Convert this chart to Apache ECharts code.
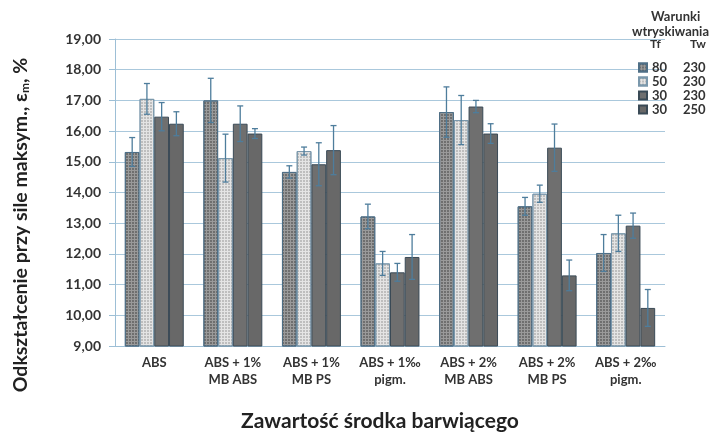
<!DOCTYPE html>
<html><head><meta charset="utf-8">
<script src="https://cdn.jsdelivr.net/npm/echarts@6/dist/echarts.min.js"></script>
<style>html,body{margin:0;padding:0;background:#fff}#c{width:723px;height:437px}</style>
</head><body><div id="c"></div>
<script>
var categories = ['ABS', 'ABS + 1%\nMB ABS', 'ABS + 1%\nMB PS', 'ABS + 1‰\npigm.', 'ABS + 2%\nMB ABS', 'ABS + 2%\nMB PS', 'ABS + 2‰\npigm.'];
var tf = ['80', '50', '30', '30'];
var tw = ['230', '230', '230', '250'];
var values1 = [15.32, 17.00, 14.67, 13.22, 16.62, 13.55, 12.03];
var values2 = [17.05, 15.12, 15.35, 11.69, 16.36, 13.96, 12.67];
var values3 = [16.47, 16.24, 14.92, 11.40, 16.80, 15.46, 12.92];
var values4 = [16.24, 15.92, 15.38, 11.90, 15.92, 11.30, 10.24];
var errors1 = [0.47, 0.72, 0.20, 0.40, 0.82, 0.29, 0.60];
var errors2 = [0.50, 0.78, 0.13, 0.39, 0.80, 0.28, 0.59];
var errors3 = [0.46, 0.58, 0.70, 0.29, 0.20, 0.77, 0.41];
var errors4 = [0.39, 0.16, 0.80, 0.73, 0.32, 0.50, 0.60];
var yTicks = [9, 10, 11, 12, 13, 14, 15, 16, 17, 18, 19];

var allValues = [values1, values2, values3, values4];
var allErrors = [errors1, errors2, errors3, errors4];
var names = tf.map(function (t, i) { return t + ' ' + tw[i]; });
var FONT = 'Lato';
var catGap = 0.25;

var styles = [
  {color: '#9a9a9a', borderColor: '#4f6f86', borderWidth: 1,
   decal: {symbol: 'circle', symbolSize: 0.9, color: 'rgba(70,70,70,0.75)', dashArrayX: [2, 1], dashArrayY: [2, 1]}},
  {color: '#e4e4e4', borderColor: '#7a98ac', borderWidth: 1,
   decal: {symbol: 'circle', symbolSize: 0.8, color: 'rgba(110,110,110,0.7)', dashArrayX: [2, 1], dashArrayY: [2, 1]}},
  {color: '#6f6f6f', borderColor: '#3a4a56', borderWidth: 1},
  {color: '#686868', borderColor: '#3a4a56', borderWidth: 1}
];

var series = [];
allValues.forEach(function (vals, s) {
  series.push({
    name: names[s], type: 'bar', data: vals, barGap: '0%', barCategoryGap: (catGap * 100) + '%',
    itemStyle: styles[s], z: 2
  });
});
var errData = [];
allValues.forEach(function (vals, s) {
  vals.forEach(function (v, i) { errData.push([i, v, allErrors[s][i], s]); });
});
series.push({
  type: 'custom', z: 5, data: errData, silent: true,
  renderItem: function (params, api) {
    var cat = api.value(0), val = api.value(1), err = api.value(2), s = api.value(3);
    var catW = api.size([1, 0])[0];
    var bw = catW * (1 - catGap) / 4;
    var x = api.coord([cat, val])[0] + (s - 1.5) * bw;
    var yt = api.coord([cat, val + err])[1];
    var yb = api.coord([cat, val - err])[1];
    var st = {stroke: '#4e7d9c', lineWidth: 1.3};
    return {type: 'group', children: [
      {type: 'line', shape: {x1: x, y1: yt, x2: x, y2: yb}, style: st},
      {type: 'line', shape: {x1: x - 3, y1: yt, x2: x + 3, y2: yt}, style: st},
      {type: 'line', shape: {x1: x - 3, y1: yb, x2: x + 3, y2: yb}, style: st}
    ]};
  }
});

var chart = echarts.init(document.getElementById('c'));
chart.setOption({
  backgroundColor: '#ffffff',
  animation: false,
  aria: {enabled: false, decal: {show: false}},
  grid: {left: 115, right: 58, top: 39, bottom: 75},
  legend: {
    data: names, orient: 'vertical', left: 633, top: 56, itemWidth: 8, itemHeight: 8, itemGap: 1,
    icon: 'rect',
    formatter: function (n) { var p = n.split(' '); return '{a|' + p[0] + '}{b|' + p[1] + '}'; },
    textStyle: {fontFamily: FONT, fontWeight: 'bold', fontSize: 13, color: '#333',
      rich: {a: {width: 31, fontFamily: FONT, fontWeight: 'bold', fontSize: 13, color: '#333'},
             b: {fontFamily: FONT, fontWeight: 'bold', fontSize: 13, color: '#333'}}}
  },
  graphic: [
    {type: 'text', left: 651, top: 10, style: {text: 'Warunki', fontFamily: FONT, fontWeight: 'bold', fontSize: 13, fill: '#333'}},
    {type: 'text', left: 632, top: 25, style: {text: 'wtryskiwania', fontFamily: FONT, fontWeight: 'bold', fontSize: 13, fill: '#333'}},
    {type: 'text', left: 650, top: 38, style: {text: 'Tf', fontFamily: FONT, fontWeight: 'bold', fontSize: 12, fill: '#333'}},
    {type: 'text', left: 690, top: 38, style: {text: 'Tw', fontFamily: FONT, fontWeight: 'bold', fontSize: 12, fill: '#333'}},
    {type: 'text', x: 21, y: 225, rotation: Math.PI / 2,
     style: {text: 'Odkształcenie przy sile maksym., ε{s|m}, %', align: 'center', verticalAlign: 'middle',
       fontFamily: FONT, fontWeight: 'bold', fontSize: 19.5, fill: '#222',
       rich: {s: {fontFamily: FONT, fontWeight: 'bold', fontSize: 12, fill: '#222', padding: [9, 0, 0, 0]}}}}
  ],
  xAxis: {
    type: 'category', data: categories,
    name: 'Zawartość środka barwiącego', nameLocation: 'middle', nameGap: 65,
    nameTextStyle: {fontFamily: FONT, fontWeight: 'bold', fontSize: 21, color: '#222', padding: [0, 20, 0, 0]},
    axisLine: {lineStyle: {color: '#9dbfd6', width: 1}},
    axisTick: {show: false},
    axisLabel: {fontFamily: FONT, fontWeight: 'bold', fontSize: 13, color: '#333', lineHeight: 17, margin: 8, interval: 0}
  },
  yAxis: {
    type: 'value', min: 9, max: 19, interval: 1,
    axisLine: {show: true, lineStyle: {color: '#9dbfd6', width: 1}},
    axisTick: {show: true, length: 6, lineStyle: {color: '#9dbfd6'}},
    splitLine: {lineStyle: {color: '#aac8dc', width: 1}},
    axisLabel: {fontFamily: FONT, fontWeight: 'bold', fontSize: 14, color: '#333', margin: 14,
      formatter: function (v) { return yTicks.indexOf(v) >= 0 ? v.toFixed(2).replace('.', ',') : ''; }}
  },
  series: series
});
</script></body></html>
